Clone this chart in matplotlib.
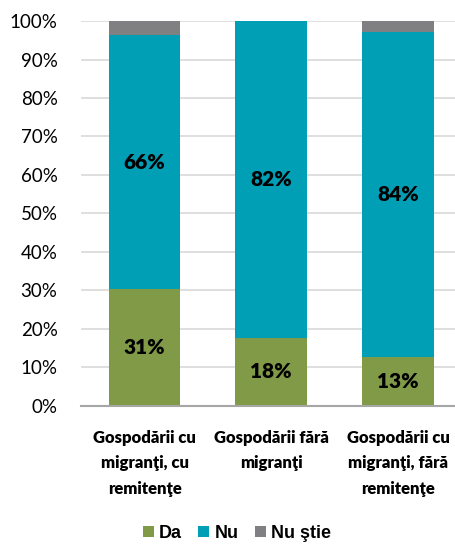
import matplotlib.pyplot as plt
import numpy as np

# Data (percent of households)
categories = ['Gospodării cu\nmigranţi, cu\nremitenţe',
              'Gospodării fără\nmigranţi',
              'Gospodării cu\nmigranţi, fără\nremitenţe']
da = [30.3, 17.7, 12.6]
nu = [66.0, 82.2, 84.6]
nu_stie = [3.7, 0.1, 2.8]
da_labels = ['31%', '18%', '13%']
nu_labels = ['66%', '82%', '84%']
series_names = ['Da', 'Nu', 'Nu ştie']

colors = ['#809A47', '#009FB6', '#808083']

fig = plt.figure(figsize=(4.56, 5.53), dpi=100)
ax = fig.add_axes([0.178, 0.266, 0.82, 0.696])

x = np.arange(len(categories))
w = 0.567
b1 = ax.bar(x, da, w, color=colors[0], label=series_names[0], zorder=3)
b2 = ax.bar(x, nu, w, bottom=da, color=colors[1], label=series_names[1], zorder=3)
bottom3 = np.array(da) + np.array(nu)
b3 = ax.bar(x, nu_stie, w, bottom=bottom3, color=colors[2], label=series_names[2], zorder=3)

# Labels centered in segments
for i in range(len(x)):
    ax.text(x[i], da[i] / 2, da_labels[i], ha='center', va='center',
            fontsize=15, fontweight='heavy', family='Lato', color='black', zorder=4)
    ax.text(x[i], da[i] + nu[i] / 2, nu_labels[i], ha='center', va='center',
            fontsize=15, fontweight='heavy', family='Lato', color='black', zorder=4)

ax.set_ylim(0, 100)
ax.set_xlim(-0.5, 2.45)
ax.set_yticks(np.arange(0, 101, 10))
ax.set_yticklabels([f'{v}%' for v in range(0, 101, 10)], family='Lato', fontsize=13.5)
ax.set_xticks(x)
ax.set_xticklabels(categories, family='Lato', fontsize=12, fontweight='heavy', linespacing=1.75)
ax.tick_params(axis='y', length=0, pad=17)
ax.tick_params(axis='x', length=0, pad=17)

ax.grid(axis='y', color='#D9D9D9', linewidth=1.2, zorder=0)
for s in ['top', 'right', 'left']:
    ax.spines[s].set_visible(False)
ax.spines['bottom'].set_color('#A6A6A6')
ax.spines['bottom'].set_linewidth(1.5)
ax.spines['bottom'].set_zorder(5)

leg = fig.legend(handles=[b1, b2, b3], labels=series_names, loc='lower center',
                 bbox_to_anchor=(0.52, 0.004), ncol=3, frameon=False, borderpad=0.0,
                 prop={'family': 'Liberation Sans', 'weight': 'bold', 'size': 13},
                 handlelength=0.6, handleheight=0.6, handletextpad=0.3, columnspacing=0.9)

fig.savefig('out.png', dpi=100)
